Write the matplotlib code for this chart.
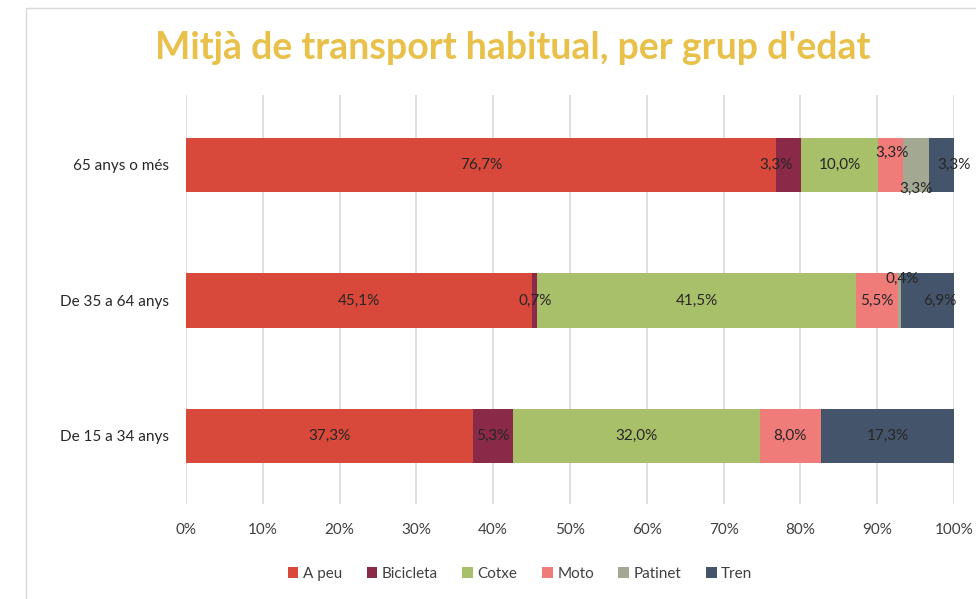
import matplotlib
matplotlib.use("Agg")
import matplotlib.pyplot as plt
from matplotlib.patches import Rectangle
import numpy as np

plt.rcParams['font.family'] = ['Lato', 'DejaVu Sans']

groups = ["De 15 a 34 anys", "De 35 a 64 anys", "65 anys o més"]
modes = ["A peu", "Bicicleta", "Cotxe", "Moto", "Patinet", "Tren"]
colors = ["#d9493b", "#8b2a48", "#a9c06a", "#f07c7a", "#a2a891", "#44546a"]

a_peu = [37.3, 45.1, 76.7]
bicicleta = [5.3, 0.7, 3.3]
cotxe = [32.0, 41.5, 10.0]
moto = [8.0, 5.5, 3.3]
patinet = [0.0, 0.4, 3.3]
tren = [17.3, 6.9, 3.3]

series = [a_peu, bicicleta, cotxe, moto, patinet, tren]

# label nudges (x in %, y in category units) like the hand-placed Excel labels
nudge = {
    (2, 1): (-1.6, 0.0), (2, 3): (0.2, 0.09), (2, 4): (0.0, -0.18), (2, 5): (1.6, 0.0),
    (1, 4): (0.3, 0.16), (1, 5): (1.6, 0.0),
}

fig = plt.figure(figsize=(9.76, 5.99), dpi=100)
fig.patches.append(Rectangle((26 / 976, -0.01), 1.0, 1 - 8 / 599 + 0.01, transform=fig.transFigure,
                             fill=False, edgecolor="#d9d9d9", lw=1.0))
ax = fig.add_axes([186 / 976, 95 / 599, 768 / 976, 409 / 599])

data = np.array(series)
totals = data.sum(axis=0)
pct = data / totals * 100
y = np.arange(len(groups))
left = np.zeros(len(groups))
for i, name in enumerate(modes):
    ax.barh(y, pct[i], left=left, height=0.4, color=colors[i], label=name, zorder=3)
    for j in range(len(groups)):
        v = data[i][j]
        if v > 0:
            dx, dy = nudge.get((j, i), (0, 0))
            ax.text(left[j] + pct[i][j] / 2 + dx, y[j] + dy, f"{v:.1f}%".replace(".", ","),
                    ha="center", va="center", fontsize=11, color="#262626", zorder=4)
    left += pct[i]

ax.set_xlim(0, 100)
ax.set_ylim(-0.502, 2.516)
ax.set_xticks(np.arange(0, 101, 10))
ax.set_xticklabels([f"{t}%" for t in range(0, 101, 10)], fontsize=11, color="#404040")
ax.set_yticks(y)
ax.set_yticklabels(groups, fontsize=11, color="#262626")
ax.tick_params(length=0, pad=14)
ax.tick_params(axis="y", pad=12)
ax.grid(axis="x", color="#d9d9d9", lw=1.2, zorder=0)
for s in ax.spines.values():
    s.set_visible(False)

fig.text(513 / 976, 1 - 48 / 599, "Mitjà de transport habitual, per grup d'edat",
         ha="center", va="center", fontsize=27, fontweight="bold", color="#e8c04a")

fig.legend(*ax.get_legend_handles_labels(), loc="center", bbox_to_anchor=(520 / 976, 1 - 574 / 599),
           ncol=6, frameon=False, fontsize=11, handlelength=0.7, handleheight=0.7,
           handletextpad=0.3, columnspacing=1.6, labelcolor="#404040")

fig.savefig("out.png", dpi=100)
